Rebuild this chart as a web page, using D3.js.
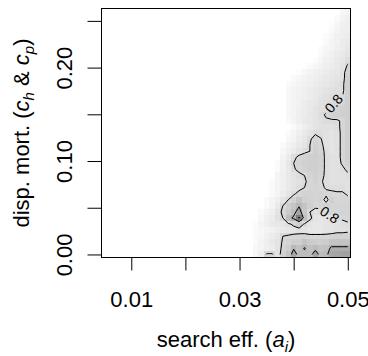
<!DOCTYPE html>
<html>
<head>
<meta charset="utf-8">
<script src="https://cdn.jsdelivr.net/npm/d3@7"></script>
<style>
  body { margin: 0; background: #ffffff; }
  svg { display: block; }
  text { font-family: "Liberation Sans", Arial, Helvetica, sans-serif; fill: #000; }
</style>
</head>
<body>
<svg id="chart" width="368" height="356"></svg>
<script>
// Grid of search efficiency (columns) and dispersal mortality (rows)
const xCenters = [0.031, 0.032, 0.033, 0.034, 0.035, 0.036, 0.037, 0.038, 0.039, 0.040,
                  0.041, 0.042, 0.043, 0.044, 0.045, 0.046, 0.047, 0.048, 0.049, 0.050];
const yCenters = [0.26, 0.2535, 0.247, 0.2405, 0.234, 0.2275, 0.221, 0.2145, 0.208, 0.2015,
                  0.195, 0.1885, 0.182, 0.1755, 0.169, 0.1625, 0.156, 0.1495, 0.143, 0.1365,
                  0.13, 0.1235, 0.117, 0.1105, 0.104, 0.0975, 0.091, 0.0845, 0.078, 0.0715,
                  0.065, 0.0585, 0.052, 0.0455, 0.039, 0.0325, 0.026, 0.0195, 0.013, 0.0065, 0];

// Response surface (x100), one row per yCenters entry, top row first
const zValues = [
  [72,72,72,72,72,72,72,72,72,72,72,72,72,72,72,72,72,73,74.5,75],
  [72,72,72,72,72,72,72,72,72,72,72,72,72,72,72,72,72,74,75,75.5],
  [72,72,72,72,72,72,72,72,72,72,72,72,72,72,72,72,73.5,74.5,75.5,76],
  [72,72,72,72,72,72,72,72,72,72,72,72,72,72,72,72,74,75,76,76],
  [72,72,72,72,72,72,72,72,72,72,72,72,72,72,72,73.5,74.5,75.5,76,76.5],
  [72,72,72,72,72,72,72,72,72,72,72,72,72,72,72,74,75,75.5,76.5,77],
  [72,72,72,72,72,72,72,72,72,72,72,72,72,72,73.5,74.5,75,76,76.5,77.5],
  [72,72,72,72,72,72,72,72,72,72,72,72,72,72,74,75,75.5,76.5,77,78],
  [72,72,72,72,72,72,72,72,72,72,72,72,72,73.5,74.5,75.5,76,77,77.5,79],
  [72,72,72,72,72,72,72,72,72,72,72,72,74,74.5,75,76,76.5,77,78,80.5],
  [72,72,72,72,72,72,72,72,72,72,73.5,74.5,75,75.5,76,76.5,77,77.5,78.5,82],
  [72,72,72,72,72,72,72,72,72,74,74.5,75,75.5,76,76.5,77,77.5,78,78.5,82.5],
  [72,72,72,72,72,72,72,72,74,74.5,75,75.5,76,76.5,77,77.5,78,78.5,79,83],
  [72,72,72,72,72,72,72,72,74.5,75,75.5,76,76.5,77,77.5,78,78.5,79,79,83],
  [72,72,72,72,72,72,72,72,74.5,75,75.5,76,76.5,77,78,78.5,79,79.5,80,83],
  [72,72,72,72,72,72,72,72,74.5,75,75.5,76.5,77,77.5,78.5,79,79.5,80,81,83],
  [72,72,72,72,72,72,72,72,74.5,75,76,76.5,77,78,78.5,79,80,81.5,82.5,83],
  [72,72,72,72,72,72,72,72,74.5,75,76,76.5,77.5,78,79,80.5,81.5,82,82.5,83],
  [72,72,72,72,72,72,72,72,74,75,76,77,77.5,78,78.5,79.5,79.5,79.5,80.5,83],
  [72,72,72,72,72,72,72,72,72,74,75,76,77,78,78.5,78.5,78.5,79,81,83],
  [72,72,72,72,72,72,72,72,74,75,76,77,78,79.5,79,78.5,78,78.5,81,83],
  [72,72,72,72,72,72,72,72,74.5,75,76.5,77.5,79.5,81.5,80.2,78.5,78,78.5,81,83],
  [72,72,72,72,72,72,72,74,75,76,77,78,80,82,81,78.5,78,78.5,81,83],
  [72,72,72,72,72,72,72,74.5,75.5,76.5,78,79,80,82.5,81.5,79,78,78.5,81,83],
  [72,72,72,72,72,72,72,75,76.5,79,81,82,82.5,83,82,79,78.5,78.5,81,83],
  [72,72,72,72,72,72,74,75.5,77.5,80,81.5,82.5,83,83,82,79,78.5,78.5,80.5,82],
  [72,72,72,72,72,72,74,75.5,77,79.5,81,82,83,83,82,79,78.5,78.5,79,81],
  [72,72,72,72,72,72,75,76,77,78,79,80,81.5,82.5,81.5,79,78.5,78.5,78.5,79],
  [72,72,72,72,72,74,75,76,77,78,78.5,79.5,81,82,80.5,79,78.5,78.5,78.5,78.5],
  [72,72,72,72,72,74,75,76,77,78,79,80,81,81.5,81,79.5,79,79,79,78.5],
  [72,72,72,72,72,74,75,76.5,78,79.5,81,82,82,81.5,81.5,81,81,80.5,80.5,79.5],
  [72,72,72,72,74,75,76,78,80,82,86,83,82,81.5,82,78.5,82.5,81,81,81],
  [72,72,72,72,74,75,77,80,83,86,89.5,86,83,81,81,82,81.5,81.5,81.5,81.5],
  [72,72,72,74,75,76,78,81,84,88,93,85,80,78.5,79,79.5,80.5,81,81.5,81.5],
  [72,72,72,74.5,75.5,76.5,78.5,80,88,91,101,87,81,78,77.5,78,78.5,79.5,80.5,81],
  [72,72,74,75,76,77,77.5,78,79,81,83,79.5,78,77.5,77.5,78,78,78.5,79,79.5],
  [72,73,74,74.5,75,75.5,76.5,77,77.5,78,78.5,78,77.5,77.5,77.5,78,78,78.5,78.5,79],
  [72,73,74,74.5,75.5,76.5,77.5,80,80.5,81,81,81.5,81,81,81,81,81.5,82,82,82],
  [72,73,74,75,76,77,78,80.5,81.5,83,83,86,84,83.5,83,83.5,86,86,86,86],
  [72,73,74.5,75,76,76.5,78,81,83,89.5,87,90.5,87,88.5,86,87,91.5,91.5,91.5,91.5],
  [72,73,74.5,76,80.5,80.5,78,82,86,93,88,88,88,93,88,89,92.5,93,93.5,93.5]
];

const contourLevels = [0.8, 0.9, 1.0];

// Contour labels (data coordinates, rotation in degrees)
const labelX = [0.0474, 0.04665];
const labelY = [0.1617, 0.0426];
const labelAngle = [-50, 34];
const labelText = ["0.8", "0.8"];

const xTicks = [0.01, 0.02, 0.03, 0.04, 0.05];
const xTickLabels = ["0.01", "", "0.03", "", "0.05"];
const yTicks = [0, 0.05, 0.10, 0.15, 0.20, 0.25];
const yTickLabels = ["0.00", "", "0.10", "", "0.20", ""];

const svg = d3.select("#chart");
const plot = { left: 101.5, right: 350.5, top: 8.5, bottom: 257.5 };
const fontSize = 22;

const dxStep = xCenters[1] - xCenters[0];
const dyStep = yCenters[0] - yCenters[1];
const nx = xCenters.length, ny = yCenters.length;

const x = d3.scaleLinear()
  .domain([0.0045, xCenters[nx - 1] + dxStep / 2])
  .range([plot.left, plot.right]);
const y = d3.scaleLinear()
  .domain([yCenters[ny - 1] - dyStep / 2, yCenters[0] + dyStep / 2])
  .range([plot.bottom, plot.top]);

const shade = d3.scaleLinear()
  .domain([0.73, 0.8, 0.9, 1.0])
  .range(["#ffffff", "#d9d9d9", "#b6b6b6", "#7c7c7c"])
  .clamp(true);

// Image cells
const cells = [];
zValues.forEach((row, j) => row.forEach((v, i) => cells.push({ xv: xCenters[i], yv: yCenters[j], z: v / 100 })));

svg.append("g")
  .attr("shape-rendering", "crispEdges")
  .selectAll("rect")
  .data(cells)
  .join("rect")
  .attr("x", d => x(d.xv - dxStep / 2))
  .attr("y", d => y(d.yv + dyStep / 2))
  .attr("width", d => x(d.xv + dxStep / 2) - x(d.xv - dxStep / 2) + 0.5)
  .attr("height", d => y(d.yv - dyStep / 2) - y(d.yv + dyStep / 2) + 0.5)
  .attr("fill", d => shade(d.z));

// Contour lines
const flat = zValues.flat().map(v => v / 100);
const contours = d3.contours().size([nx, ny]).thresholds(contourLevels)(flat);

const gridToScreen = d3.geoTransform({
  point(cx, cy) {
    this.stream.point(x(xCenters[0] + (cx - 0.5) * dxStep), y(yCenters[0] - (cy - 0.5) * dyStep));
  }
});
const path = d3.geoPath(gridToScreen);

const defs = svg.append("defs");
defs.append("clipPath").attr("id", "grid-clip")
  .append("rect")
  .attr("x", x(xCenters[0])).attr("y", y(yCenters[0]))
  .attr("width", x(xCenters[nx - 1]) - x(xCenters[0]))
  .attr("height", y(yCenters[ny - 1]) - y(yCenters[0]));

const labelFont = 14;
const mask = defs.append("mask").attr("id", "label-gap")
  .attr("maskUnits", "userSpaceOnUse")
  .attr("x", 0).attr("y", 0).attr("width", 368).attr("height", 356);
mask.append("rect").attr("width", 368).attr("height", 356).attr("fill", "#fff");
labelText.forEach((t, k) => {
  mask.append("rect")
    .attr("x", -13).attr("y", -7).attr("width", 26).attr("height", 14)
    .attr("fill", "#000")
    .attr("transform", `translate(${x(labelX[k])},${y(labelY[k])}) rotate(${labelAngle[k]})`);
});

svg.append("g")
  .attr("clip-path", "url(#grid-clip)")
  .append("g")
  .attr("mask", "url(#label-gap)")
  .selectAll("path")
  .data(contours)
  .join("path")
  .attr("d", path)
  .attr("fill", "none")
  .attr("stroke", "#000")
  .attr("stroke-width", 1);

svg.append("g").selectAll("text")
  .data(labelText)
  .join("text")
  .attr("transform", (t, k) => `translate(${x(labelX[k])},${y(labelY[k])}) rotate(${labelAngle[k]})`)
  .attr("text-anchor", "middle")
  .attr("dy", "0.36em")
  .attr("font-size", labelFont)
  .text(t => t);

// Plot frame
svg.append("rect")
  .attr("x", plot.left).attr("y", plot.top)
  .attr("width", plot.right - plot.left).attr("height", plot.bottom - plot.top)
  .attr("fill", "none").attr("stroke", "#000").attr("stroke-width", 1);

// Axes
const xAxis = d3.axisBottom(x)
  .tickValues(xTicks)
  .tickSize(13)
  .tickPadding(21)
  .tickFormat((d, i) => xTickLabels[i]);
const gx = svg.append("g").attr("transform", `translate(0,${plot.bottom})`).call(xAxis);
gx.select(".domain").remove();
gx.selectAll("line").attr("stroke", "#000");
gx.selectAll("text").attr("font-size", fontSize).attr("font-family", null).attr("fill", "#000");

const yAxis = d3.axisLeft(y)
  .tickValues(yTicks)
  .tickSize(14)
  .tickFormat((d, i) => yTickLabels[i]);
const gy = svg.append("g").attr("transform", `translate(${plot.left},0)`).call(yAxis);
gy.select(".domain").remove();
gy.selectAll("line").attr("stroke", "#000");
gy.selectAll("text")
  .attr("font-size", fontSize).attr("font-family", null).attr("fill", "#000")
  .attr("x", null).attr("dy", null)
  .attr("text-anchor", "middle")
  .attr("transform", "rotate(-90)")
  .attr("y", -30);

// Axis titles
const xTitle = svg.append("text")
  .attr("x", (plot.left + plot.right) / 2)
  .attr("y", 347)
  .attr("text-anchor", "middle")
  .attr("font-size", fontSize);
xTitle.append("tspan").text("search eff. (");
xTitle.append("tspan").attr("font-style", "italic").text("a");
xTitle.append("tspan").attr("font-style", "italic").attr("font-size", 15).attr("dy", 5).text("i");
xTitle.append("tspan").attr("dy", -5).text(")");

const yTitle = svg.append("text")
  .attr("transform", `translate(29,${(plot.top + plot.bottom) / 2}) rotate(-90)`)
  .attr("text-anchor", "middle")
  .attr("font-size", fontSize);
yTitle.append("tspan").text("disp. mort. (");
yTitle.append("tspan").attr("font-style", "italic").text("c");
yTitle.append("tspan").attr("font-style", "italic").attr("font-size", 15).attr("dy", 5).text("h");
yTitle.append("tspan").attr("dy", -5).text(" & ");
yTitle.append("tspan").attr("font-style", "italic").text("c");
yTitle.append("tspan").attr("font-style", "italic").attr("font-size", 15).attr("dy", 5).text("p");
yTitle.append("tspan").attr("dy", -5).text(")");
</script>
</body>
</html>
